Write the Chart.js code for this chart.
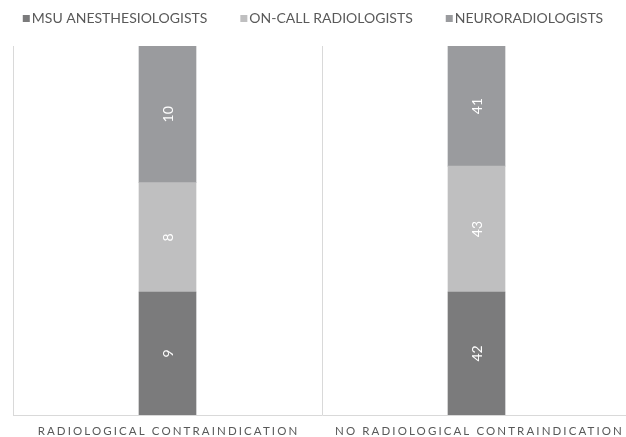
<!DOCTYPE html>
<html>
<head>
<meta charset="utf-8">
<script src="https://cdn.jsdelivr.net/npm/chart.js@4/dist/chart.umd.min.js"></script>
<style>
  html, body { margin: 0; padding: 0; background: #fff; overflow: hidden; }
  #wrap { width: 660px; height: 437px; }
</style>
</head>
<body>
<div id="wrap"><canvas id="mixChart" width="660" height="437"></canvas></div>
<script>
const categories = ['RADIOLOGICAL CONTRAINDICATION', 'NO RADIOLOGICAL CONTRAINDICATION'];
const seriesNames = ['MSU ANESTHESIOLOGISTS', 'ON-CALL RADIOLOGISTS', 'NEURORADIOLOGISTS'];
const msuAnesthesiologists = [9, 42];
const onCallRadiologists = [8, 43];
const neuroradiologists = [10, 41];
const seriesColors = ['#7b7b7c', '#bfbfc0', '#9a9b9e'];

const counts = [msuAnesthesiologists, onCallRadiologists, neuroradiologists];
const totals = categories.map((c, i) => counts.reduce((s, arr) => s + arr[i], 0));

const FONT = 'Lato, "Open Sans", sans-serif';
const TEXT_GREY = '#595959';

// legend drawn across the top, centred on the visible window
const topLegend = {
    id: 'topLegend',
    afterDraw(chart) {
        const ctx = chart.ctx;
        ctx.save();
        ctx.font = '14px ' + FONT;
        ctx.textBaseline = 'middle';
        const box = 7, gapText = 2, gapItem = 33;
        const widths = chart.data.datasets.map(d => box + gapText + ctx.measureText(d.label).width);
        const total = widths.reduce((a, b) => a + b, 0) + gapItem * (widths.length - 1);
        let x = (626 - total) / 2;
        const y = 18;
        chart.data.datasets.forEach((d, i) => {
            ctx.fillStyle = d.backgroundColor;
            ctx.fillRect(x, y - 3, box, box);
            ctx.fillStyle = TEXT_GREY;
            ctx.textAlign = 'left';
            ctx.fillText(d.label, x + box + gapText, y + 0.5);
            x += widths[i] + gapItem;
        });
        ctx.restore();
    }
};

// spaced-out category labels under the axis
const categoryLabels = {
    id: 'categoryLabels',
    afterDraw(chart) {
        const ctx = chart.ctx;
        const xScale = chart.scales.x;
        ctx.save();
        ctx.font = '11.5px ' + FONT;
        ctx.letterSpacing = '2.1px';
        ctx.fillStyle = TEXT_GREY;
        ctx.textAlign = 'center';
        ctx.textBaseline = 'middle';
        chart.data.labels.forEach((lab, i) => {
            ctx.fillText(lab, xScale.getPixelForValue(i) + 1 + i * 2, 431);
        });
        ctx.restore();
    }
};

// raw counts written sideways in the middle of each segment
const segmentValues = {
    id: 'segmentValues',
    afterDatasetsDraw(chart) {
        const ctx = chart.ctx;
        ctx.save();
        ctx.font = '14px ' + FONT;
        ctx.fillStyle = '#ffffff';
        ctx.textAlign = 'center';
        ctx.textBaseline = 'middle';
        chart.data.datasets.forEach((d, di) => {
            chart.getDatasetMeta(di).data.forEach((bar, i) => {
                const cy = (bar.y + bar.base) / 2;
                ctx.save();
                ctx.translate(bar.x + 1, cy);
                ctx.rotate(-Math.PI / 2);
                ctx.fillText(String(d.counts[i]), 0, 0);
                ctx.restore();
            });
        });
        ctx.restore();
    }
};

const mixCtx = document.getElementById('mixChart').getContext('2d');
const mixChart = new Chart(mixCtx, {
    type: 'bar',
    data: {
        labels: categories,
        datasets: seriesNames.map((name, s) => ({
            label: name,
            counts: counts[s],
            data: counts[s].map((v, i) => v / totals[i] * 100),
            backgroundColor: seriesColors[s],
            barThickness: 57,
            borderWidth: 0
        }))
    },
    options: {
        responsive: false,
        animation: false,
        layout: { padding: { top: 46, left: 13, right: 29, bottom: 22 } },
        plugins: {
            legend: { display: false },
            tooltip: { enabled: false }
        },
        scales: {
            x: {
                stacked: true,
                grid: { display: true, color: '#d9d9d9', lineWidth: 1, drawTicks: false, offset: true },
                border: { display: true, color: '#d9d9d9', width: 1 },
                ticks: { display: false }
            },
            y: {
                stacked: true,
                display: false,
                min: 0,
                max: 100
            }
        }
    },
    plugins: [topLegend, categoryLabels, segmentValues]
});
</script>
</body>
</html>
